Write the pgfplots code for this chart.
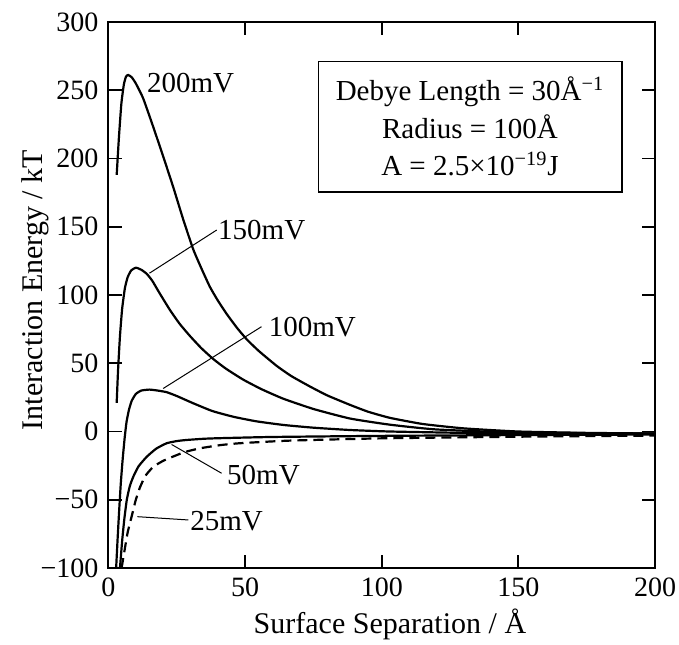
\documentclass[border=0pt]{standalone}
\usepackage{fontspec}
\setmainfont{Liberation Serif}
\usepackage{pgfplots}
\pgfplotsset{compat=1.18}
\begin{document}
\fontsize{14.5}{17}\selectfont
\begin{tikzpicture}
\useasboundingbox (-54.25pt,-38pt) rectangle (285.25pt,284pt);
\begin{axis}[
  at={(0,0)}, anchor=south west,
  scale only axis, width=273.25pt, height=273pt,
  xmin=0, xmax=200, ymin=-100, ymax=300,
  xtick={0,50,100,150,200}, xticklabels={0,50,100,150,200},
  ytick={-100,-50,0,50,100,150,200,250,300},
  yticklabels={−100,−50,0,50,100,150,200,250,300},
  tick align=inside, major tick length=6.5pt,
  axis line style={line width=1pt},
  every tick/.style={line width=0.9pt, black},
  ticklabel style={font=\fontsize{14}{16}\selectfont},
  xlabel={Surface Separation / Å},
  ylabel={Interaction Energy / kT},
  every axis y label/.style={at={(axis description cs:-0.1345,0.509)}, rotate=90, anchor=center, font=\fontsize{15}{17}\selectfont},
  every axis x label/.style={at={(axis description cs:0.515,-0.104)}, anchor=center, font=\fontsize{15}{17}\selectfont},
  clip=true,
]
% 200 mV
\addplot[black, line width=1.1pt, smooth, tension=0.3] coordinates {
(3,188) (3.8,215) (4.7,240) (5.6,254) (6.4,260) (7.2,261.2) (8.5,259.5) (10,255)
(12.7,244) (16.4,223) (20.1,201) (23.7,179) (27.4,155) (31,133.5) (34,119.5)
(37.1,106) (40,96) (43.3,86) (47,76) (50.6,67.5) (55,59) (61.6,48) (67,40.5)
(73.7,33) (80,26.5) (88.4,19.5) (95,14.5) (103,10) (115,5.5) (130,2.3) (150,0)
(175,-1) (200,-1.5)};
% 150 mV
\addplot[black, line width=1.1pt, smooth, tension=0.3] coordinates {
(3,21) (3.5,45) (4.2,70) (5,90) (6,105) (7,113) (8.3,118) (10,120) (12,118.5)
(14,115.5) (16,110.5) (18.5,102) (22.5,89) (26,79) (29.8,70) (34,61) (38.4,53)
(43,46) (49.3,38) (56,31) (64,24) (75,16.5) (88.4,9.5) (103,5) (120,1.5)
(150,-0.8) (200,-1.5)};
% 100 mV
\addplot[black, line width=1.1pt, smooth, tension=0.3] coordinates {
(2.8,-100) (3.3,-80) (3.9,-58) (4.5,-38) (5.2,-20) (5.9,-5) (6.6,7) (7.5,16)
(8.5,22.5) (10,27.5) (12,30) (15,30.7) (18,30) (21.3,28.8) (25,26) (31,20.7)
(38,15) (45.7,10.8) (54,7.5) (64,4.8) (75,2.8) (88.4,1.1) (103,0) (130,-1)
(160,-1.5) (200,-1.5)};
% 50 mV
\addplot[black, line width=1.1pt, smooth, tension=0.3] coordinates {
(4.2,-100) (5,-80) (5.8,-64) (6.7,-50) (7.8,-40) (9.1,-33) (11,-25.5) (14,-18.5)
(17.5,-12.5) (21.3,-8.6) (25,-7) (28.6,-6.2) (35,-5.3) (40.6,-4.9) (60,-4)
(100,-3.2) (150,-2.6) (200,-2.2)};
% 25 mV
\addplot[black, line width=1.1pt, dash pattern=on 5pt off 3pt, smooth, tension=0.3] coordinates {
(4.8,-100) (5.8,-88) (7,-74) (8.5,-62) (10,-50) (11.5,-41) (13.5,-32.5)
(16.4,-25.8) (20,-21.5) (23.7,-18.3) (28,-15) (33.5,-12.3) (40.8,-10) (48,-8.6)
(66,-6.7) (100,-5) (150,-3.8) (200,-3)};
% leader lines
\draw[line width=0.5pt] (axis cs:15,116) -- (axis cs:39.6,147.6);
\draw[line width=0.5pt] (axis cs:20,31.5) -- (axis cs:56,76.8);
\draw[line width=0.5pt] (axis cs:23.1,-9.5) -- (axis cs:41.4,-30.6);
\draw[line width=0.5pt] (axis cs:10.6,-62.4) -- (axis cs:29.2,-64.8);
% labels
\node[anchor=west, inner sep=0pt] at (axis cs:14,255) {200mV};
\node[anchor=west, inner sep=0pt] at (axis cs:40,147.6) {150mV};
\node[anchor=west, inner sep=0pt] at (axis cs:58.5,76.8) {100mV};
\node[anchor=west, inner sep=0pt] at (axis cs:43.3,-31.9) {50mV};
\node[anchor=west, inner sep=0pt] at (axis cs:29.8,-66) {25mV};
% parameter box
\node[draw, line width=0.8pt, fill=white, align=center, minimum width=151.7pt, minimum height=65pt,
      font=\fontsize{14.5}{18.75}\selectfont] at (axis cs:132.3,223.3)
  {Debye Length = 30Å\textsuperscript{−1}\\ Radius = 100Å\\ A = 2.5×10\textsuperscript{−19}J};
\end{axis}
\end{tikzpicture}
\end{document}
